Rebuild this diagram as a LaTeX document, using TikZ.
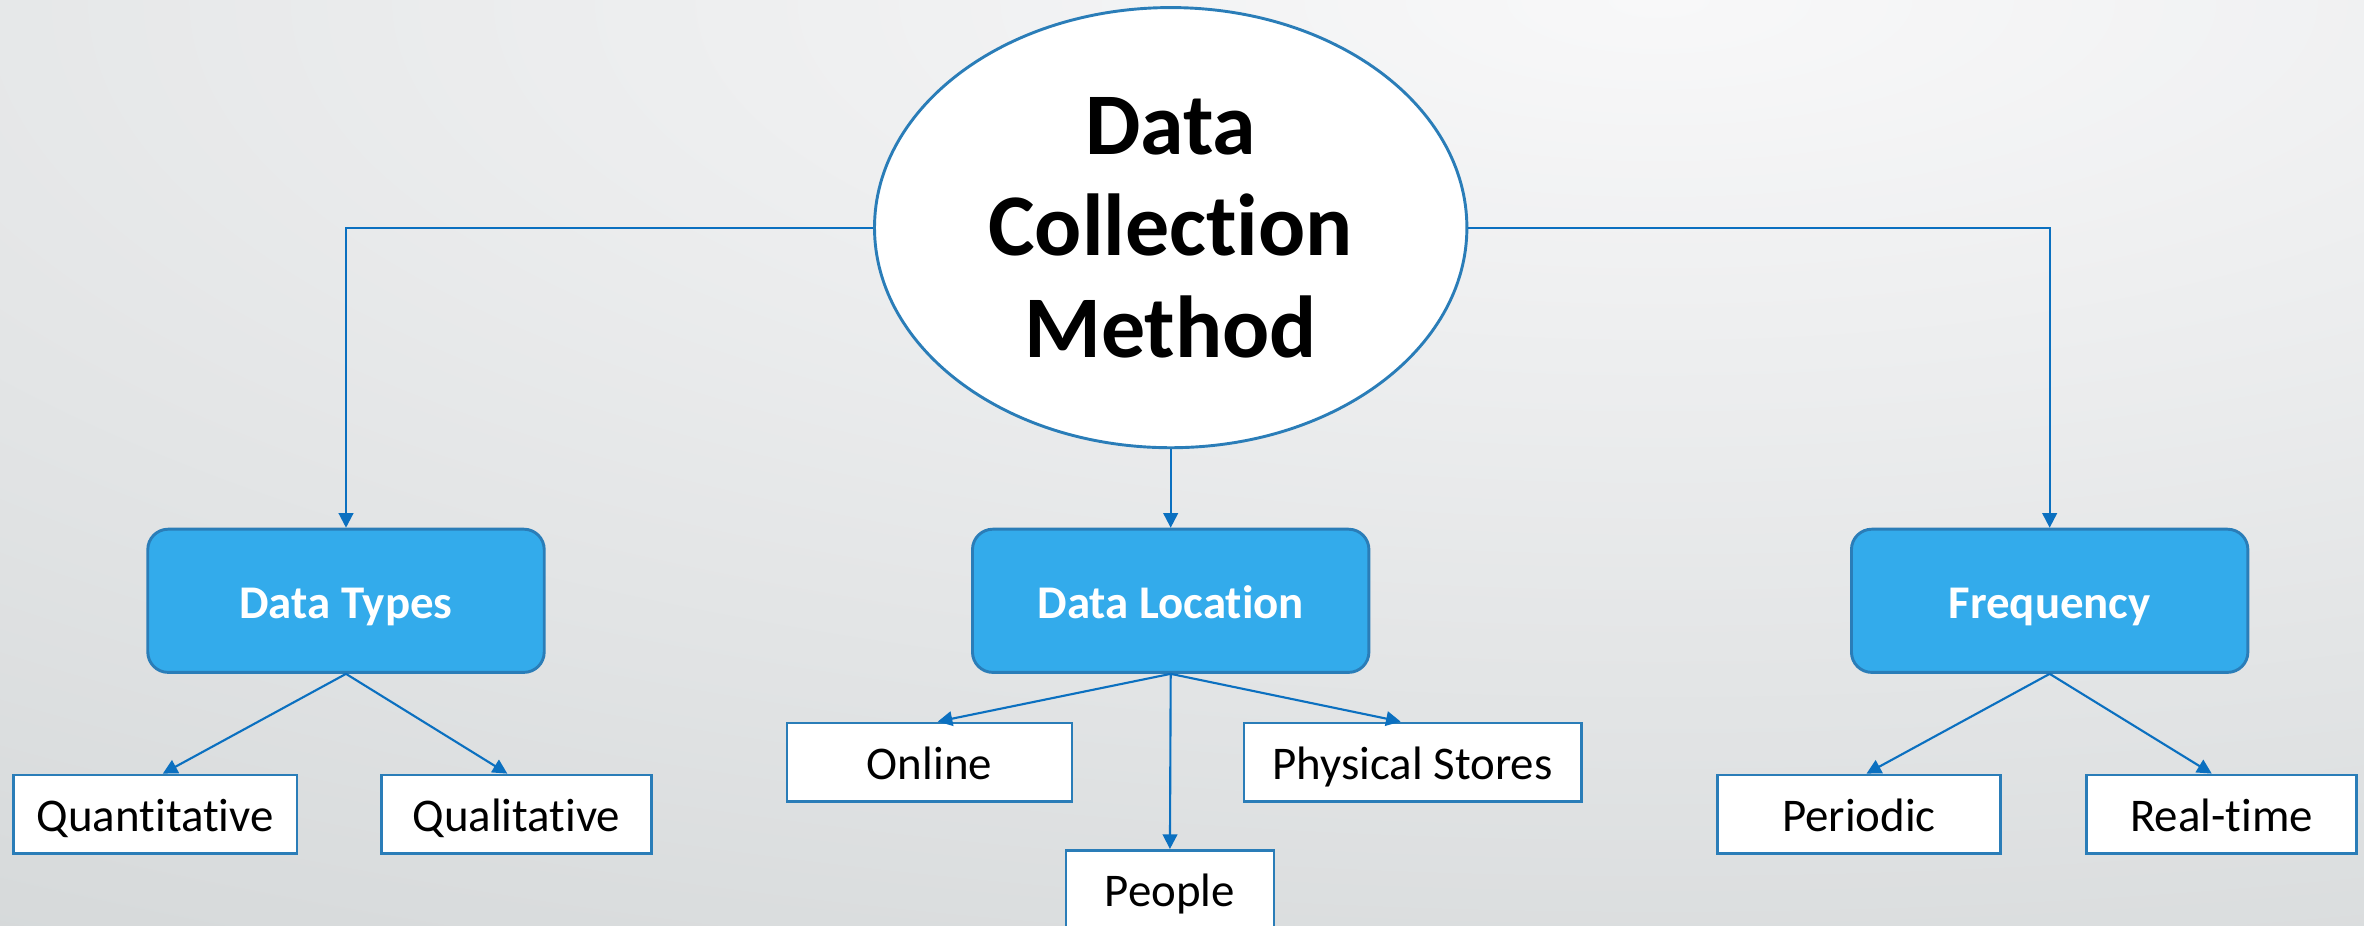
\documentclass[tikz,border=0pt]{standalone}
\usepackage{fontspec}
\setmainfont{Carlito}[Ligatures=NoCommon]
\usepackage{tikz}
\usetikzlibrary{shapes.geometric}
\usetikzlibrary{arrows.meta}
\definecolor{BackLight}{HTML}{F8F8F9}
\definecolor{BackDark}{HTML}{B8BEBF}
\definecolor{BoxFill}{HTML}{33ABEB}
\definecolor{BoxEdge}{HTML}{2A7DB8}
\definecolor{LinkBlue}{HTML}{0B70C0}

\begin{document}
\begin{tikzpicture}[x=0.02cm, y=-0.02cm,
    topic/.style={draw=BoxEdge, line width=1.1pt, fill=BoxFill,
      rounded corners=0.27cm, minimum width=5.26cm, minimum height=1.9cm,
      text height=17pt, text depth=4pt,
      text=white, font=\fontsize{17.7}{21}\selectfont\bfseries},
    leaf/.style={draw=BoxEdge, line width=1pt, fill=white,
      minimum width=#1, minimum height=1.04cm, inner sep=0pt,
      text height=17pt, text depth=4pt,
      font=\fontsize{17.7}{21}\selectfont},
    link/.style={draw=LinkBlue, line width=0.8pt,
      -{Triangle[width=5.5pt,length=5.5pt]}}]
      % background
      \clip (0,0) rectangle (1568,614);
      \fill[BackDark] (0,0) rectangle (1568,614);
      \shade[inner color=BackLight, outer color=BackDark]
      (1100,0) ellipse [x radius=78cm, y radius=27.5cm];

      \node[ellipse, draw=BoxEdge, line width=1.1pt, fill=white,
      minimum width=7.86cm, minimum height=5.84cm, inner sep=0pt,
      align=center, font=\fontsize{33.2}{38.3}\selectfont\bfseries]
      (method) at (776.5,151) {Data\\Collection\\Method};

      \node[topic] (types) at (229.5,398.5) {Data Types};
      \node[topic] (location) at (776.5,398.5) {Data Location};
      \node[topic] (frequency) at (1359.5,398.5) {Frequency};

      \node[leaf=3.76cm] (quant) at (103,540) {Quantitative};
      \node[leaf=3.58cm] (qual) at (342.5,540) {Qualitative};
      \node[leaf=3.78cm] (online) at (616.5,505.5) {Online};
      \node[leaf=4.48cm] (stores) at (937,505.5) {Physical Stores};
      \node[leaf=2.76cm] (people) at (776,590) {People};
      \node[leaf=3.76cm] (periodic) at (1233,540) {Periodic};
      \node[leaf=3.58cm] (realtime) at (1473.5,540) {Real-time};

      \draw[link] (method.west) -| (types.north);
      \draw[link] (method.south) -- (location.north);
      \draw[link] (method.east) -| (frequency.north);

      \draw[link] (types.south) -- ([xshift=0.1cm]quant.north);
      \draw[link] (types.south) -- ([xshift=-0.12cm]qual.north);
      \draw[link] (location.south) -- ([xshift=0.11cm]online.north);
      \draw[link] (location.south) -- (people.north);
      \draw[link] (location.south) -- ([xshift=-0.16cm]stores.north);
      \draw[link] (frequency.south) -- ([xshift=0.1cm]periodic.north);
      \draw[link] (frequency.south) -- ([xshift=-0.13cm]realtime.north);
    \end{tikzpicture}
\end{document}
